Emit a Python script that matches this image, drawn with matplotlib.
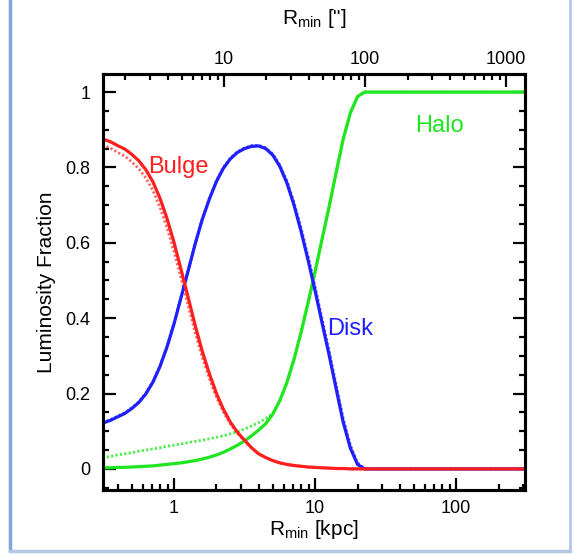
import matplotlib
matplotlib.use("Agg")
import matplotlib.pyplot as plt
from matplotlib.ticker import FixedLocator, FuncFormatter, MultipleLocator, LogLocator, NullFormatter
from matplotlib.lines import Line2D

plt.rcParams['font.family'] = ['Liberation Sans', 'DejaVu Sans']
plt.rcParams['mathtext.default'] = 'regular'

# ---- data ----
r_kpc = [0.31, 0.355, 0.398, 0.447, 0.501, 0.562, 0.631, 0.708, 0.794, 0.891,
         1.0, 1.12, 1.26, 1.41, 1.58, 1.78, 2.0, 2.24, 2.51, 2.82,
         3.16, 3.55, 3.98, 4.47, 5.01, 5.62, 6.31, 7.08, 7.94, 8.91,
         10.0, 11.2, 12.6, 14.1, 15.8, 17.8, 20.0, 22.4, 25.1, 28.2,
         31.6, 50, 100, 200, 316]

bulge = [0.876, 0.868, 0.858, 0.849, 0.835, 0.818, 0.794, 0.762, 0.719, 0.665,
         0.601, 0.530, 0.455, 0.382, 0.314, 0.253, 0.200, 0.158, 0.124, 0.097,
         0.076, 0.056, 0.040, 0.030, 0.022, 0.016, 0.012, 0.009, 0.007, 0.005,
         0.004, 0.003, 0.002, 0.001, 0.001, 0.0, 0.0, 0.0, 0.0, 0.0,
         0.0, 0.0, 0.0, 0.0, 0.0]
bulge_dot = [0.860, 0.851, 0.840, 0.830, 0.815, 0.797, 0.772, 0.739, 0.695, 0.641,
             0.577, 0.507, 0.434, 0.363, 0.298, 0.240, 0.190, 0.151, 0.119, 0.094,
             0.074, 0.055, 0.040, 0.030, 0.022, 0.016, 0.012, 0.009, 0.007, 0.005,
             0.004, 0.003, 0.002, 0.001, 0.001, 0.0, 0.0, 0.0, 0.0, 0.0,
             0.0, 0.0, 0.0, 0.0, 0.0]

disk = [0.121, 0.129, 0.138, 0.147, 0.160, 0.176, 0.199, 0.230, 0.271, 0.323,
        0.385, 0.454, 0.526, 0.596, 0.660, 0.716, 0.763, 0.798, 0.823, 0.840,
        0.850, 0.856, 0.857, 0.850, 0.833, 0.803, 0.759, 0.701, 0.632, 0.555,
        0.473, 0.388, 0.301, 0.213, 0.125, 0.055, 0.012, 0.0, 0.0, 0.0,
        0.0, 0.0, 0.0, 0.0, 0.0]
disk_dot = [0.123, 0.131, 0.140, 0.149, 0.162, 0.178, 0.201, 0.232, 0.273, 0.325,
            0.387, 0.456, 0.528, 0.598, 0.662, 0.718, 0.765, 0.800, 0.825, 0.842,
            0.852, 0.858, 0.859, 0.852, 0.836, 0.807, 0.765, 0.708, 0.641, 0.565,
            0.484, 0.399, 0.312, 0.224, 0.135, 0.063, 0.016, 0.001, 0.0, 0.0,
            0.0, 0.0, 0.0, 0.0, 0.0]

halo = [0.003, 0.003, 0.004, 0.004, 0.005, 0.006, 0.007, 0.008, 0.010, 0.012,
        0.014, 0.016, 0.019, 0.022, 0.026, 0.031, 0.037, 0.044, 0.053, 0.063,
        0.074, 0.088, 0.103, 0.120, 0.145, 0.181, 0.229, 0.290, 0.361, 0.440,
        0.523, 0.609, 0.697, 0.786, 0.874, 0.945, 0.988, 1.0, 1.0, 1.0,
        1.0, 1.0, 1.0, 1.0, 1.0]
halo_dot = [0.030, 0.033, 0.037, 0.040, 0.043, 0.047, 0.050, 0.053, 0.056, 0.060,
            0.063, 0.066, 0.070, 0.073, 0.076, 0.080, 0.084, 0.088, 0.093, 0.099,
            0.106, 0.114, 0.123, 0.133, 0.147, 0.181, 0.229, 0.290, 0.361, 0.440,
            0.523, 0.609, 0.697, 0.786, 0.874, 0.945, 0.988, 1.0, 1.0, 1.0,
            1.0, 1.0, 1.0, 1.0, 1.0]

x_ticks = [1, 10, 100]
top_ticks = [10, 100, 1000]
y_ticks = [0, 0.2, 0.4, 0.6, 0.8, 1.0]
arcsec_per_kpc = 4.42
x_range = (0.3136, 308)
y_range = (-0.056, 1.048)

RED, BLUE, GREEN = '#ff1f1f', '#1f1fff', '#1fe61f'

fig = plt.figure(figsize=(5.74, 5.55), dpi=100)
ax = fig.add_axes([103/574, 1-490/555, 422/574, 416/555])

lw = 2.3
ax.plot(r_kpc, bulge_dot, color=RED, lw=2.0, ls=(0, (0.8, 0.8)), alpha=0.7)
ax.plot(r_kpc, disk_dot, color=BLUE, lw=2.0, ls=(0, (0.8, 0.8)), alpha=0.7)
ax.plot(r_kpc, halo_dot, color=GREEN, lw=2.0, ls=(0, (0.8, 0.8)), alpha=0.8)
ax.plot(r_kpc, halo, color=GREEN, lw=lw)
ax.plot(r_kpc, disk, color=BLUE, lw=lw)
ax.plot(r_kpc, bulge, color=RED, lw=lw)

ax.set_xscale('log')
ax.set_xlim(*x_range)
ax.set_ylim(*y_range)

ax.xaxis.set_major_locator(FixedLocator(x_ticks))
ax.xaxis.set_major_formatter(FuncFormatter(lambda v, p: '%g' % v))
ax.xaxis.set_minor_locator(LogLocator(base=10, subs=range(2, 10), numticks=20))
ax.xaxis.set_minor_formatter(NullFormatter())
ax.yaxis.set_major_locator(FixedLocator(y_ticks))
ax.yaxis.set_major_formatter(FuncFormatter(lambda v, p: '%g' % v))
ax.yaxis.set_minor_locator(MultipleLocator(0.05))

ax.tick_params(which='both', direction='in', width=1.6, labelsize=13,
               bottom=True, left=True, right=True, top=False)
ax.tick_params(which='major', length=9, pad=7)
ax.tick_params(which='minor', length=4.5)
ax.tick_params(axis='y', pad=9)
for s in ax.spines.values():
    s.set_linewidth(2.2)

ax2 = ax.twiny()
ax2.set_xscale('log')
ax2.set_xlim(x_range[0]*arcsec_per_kpc, x_range[1]*arcsec_per_kpc)
ax2.xaxis.set_major_locator(FixedLocator(top_ticks))
ax2.xaxis.set_major_formatter(FuncFormatter(lambda v, p: '%g' % v))
ax2.xaxis.set_minor_locator(LogLocator(base=10, subs=range(2, 10), numticks=20))
ax2.xaxis.set_minor_formatter(NullFormatter())
ax2.tick_params(which='both', direction='in', width=1.6, labelsize=13, pad=4)
ax2.tick_params(which='major', length=9)
ax2.tick_params(which='minor', length=4.5)
for s in ax2.spines.values():
    s.set_linewidth(2.2)

ax.set_xlabel(r'R$_{min}$ [kpc]', fontsize=15, labelpad=1)
ax.set_ylabel('Luminosity Fraction', fontsize=15, labelpad=7)
ax2.set_xlabel(r'R$_{min}$ ["]', fontsize=15, labelpad=20)

ax.text(1.07, 0.80, 'Bulge', color=RED, fontsize=17, ha='center', va='center')
ax.text(17.8, 0.37, 'Disk', color=BLUE, fontsize=17, ha='center', va='center')
ax.text(76, 0.91, 'Halo', color=GREEN, fontsize=17, ha='center', va='center')

# window frame
fig.add_artist(Line2D([10/574, 10/574], [1-550/555, 1.0], transform=fig.transFigure,
                      color='#7fa6dc', lw=2.5))
fig.add_artist(Line2D([10/574, 570/574], [1-551/555, 1-551/555], transform=fig.transFigure,
                      color='#b3c9e6', lw=2.5))
fig.add_artist(Line2D([570/574, 570/574], [1-551/555, 1.0], transform=fig.transFigure,
                      color='#b3c9e6', lw=2.0))

fig.savefig('out.png', dpi=100)
